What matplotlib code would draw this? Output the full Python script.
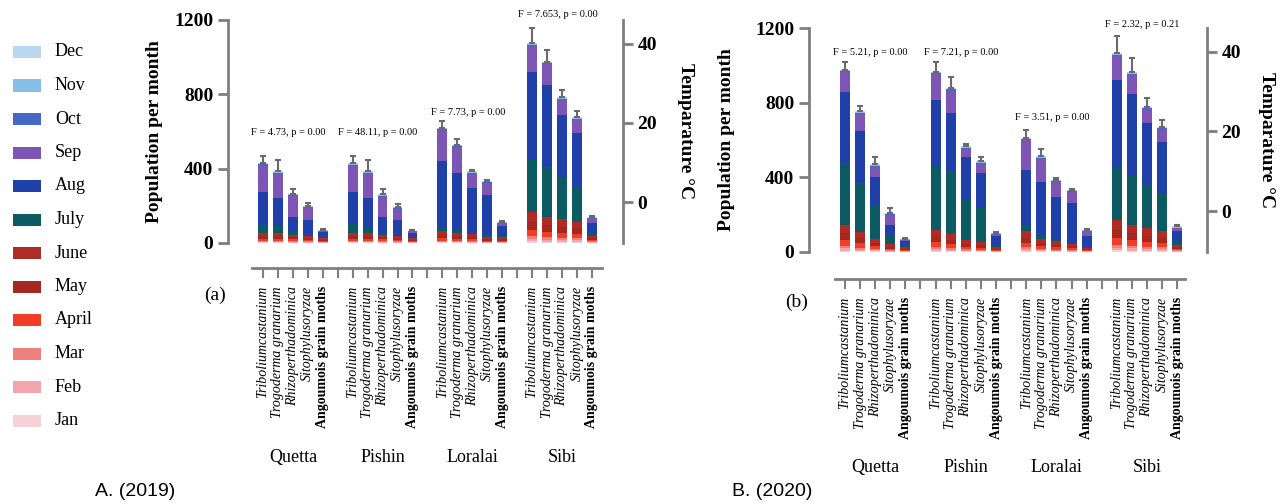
import matplotlib
matplotlib.use('Agg')
import matplotlib.pyplot as plt
import matplotlib.patches as patches
import numpy as np

plt.rcParams['font.family'] = ['Liberation Serif', 'DejaVu Serif']

months = ['Jan', 'Feb', 'Mar', 'April', 'May', 'June', 'July', 'Aug', 'Sep', 'Oct', 'Nov', 'Dec']
month_colors = ['#f5d2d8', '#f3a4ac', '#ef8080', '#ef3d26', '#a4281f', '#b02b25',
                '#0c5a62', '#1f3fa9', '#7d55b5', '#4369c4', '#88bee8', '#b9d8f0']
species = ['Triboliumcastanium', 'Trogoderma granarium', 'Rhizoperthadominica',
           'Sitophylusoryzae', 'Angoumois grain moths']
districts = ['Quetta', 'Pishin', 'Loralai', 'Sibi']

# monthly counts, order: Quetta x5 species, Pishin x5, Loralai x5, Sibi x5
jan_2019 = [3, 3, 2, 2, 1, 3, 3, 2, 2, 1, 3, 3, 2, 2, 1, 8, 7, 6, 6, 2]
feb_2019 = [4, 4, 3, 2, 2, 4, 4, 3, 2, 2, 4, 4, 3, 2, 2, 12, 10, 9, 8, 3]
mar_2019 = [6, 6, 5, 4, 3, 6, 5, 5, 4, 3, 6, 6, 5, 3, 3, 17, 14, 13, 12, 4]
apr_2019 = [11, 11, 9, 7, 5, 11, 10, 9, 7, 5, 13, 11, 10, 6, 6, 34, 28, 26, 23, 8]
may_2019 = [13, 13, 11, 9, 6, 14, 13, 11, 9, 6, 16, 14, 12, 8, 8, 42, 36, 32, 29, 10]
jun_2019 = [17, 17, 15, 11, 8, 17, 17, 14, 11, 8, 21, 18, 16, 11, 10, 56, 47, 42, 37, 13]
jul_2019 = [45, 36, 12, 10, 5, 45, 36, 11, 10, 5, 23, 16, 6, 4, 5, 278, 269, 229, 188, 12]
aug_2019 = [174, 152, 83, 80, 28, 175, 155, 83, 80, 26, 354, 305, 242, 224, 56, 475, 439, 332, 287, 54]
sep_2019 = [144, 131, 113, 62, 4, 140, 130, 112, 60, 4, 166, 140, 78, 61, 15, 139, 112, 82, 73, 22]
oct_2019 = [6, 6, 5, 4, 3, 6, 6, 5, 4, 3, 6, 5, 5, 5, 4, 6, 6, 5, 5, 4]
nov_2019 = [4, 4, 4, 3, 2, 4, 4, 4, 3, 2, 4, 4, 4, 3, 2, 5, 5, 5, 5, 3]
dec_2019 = [3, 3, 3, 3, 1, 3, 3, 3, 3, 1, 3, 3, 3, 3, 2, 3, 3, 3, 3, 3]
err_2019 = [36, 62, 25, 18, 7, 38, 62, 28, 17, 6, 36, 31, 9, 9, 6, 80, 63, 39, 36, 7]

jan_2020 = [8, 5, 4, 2, 1, 6, 5, 3, 3, 1, 6, 4, 3, 2, 1, 9, 8, 6, 6, 2]
feb_2020 = [11, 8, 5, 3, 2, 9, 7, 5, 4, 2, 8, 5, 4, 3, 2, 12, 11, 9, 8, 3]
mar_2020 = [15, 11, 7, 4, 3, 12, 10, 7, 5, 3, 11, 7, 6, 5, 3, 17, 15, 13, 11, 4]
apr_2020 = [30, 22, 14, 9, 5, 24, 20, 13, 10, 5, 22, 14, 12, 9, 5, 35, 30, 26, 22, 8]
may_2020 = [36, 27, 18, 10, 6, 30, 24, 16, 13, 6, 27, 18, 15, 11, 6, 43, 36, 32, 27, 10]
jun_2020 = [46, 35, 22, 14, 8, 39, 32, 22, 17, 8, 36, 22, 20, 14, 7, 57, 46, 42, 36, 13]
jul_2020 = [331, 262, 180, 42, 5, 348, 334, 214, 184, 5, 27, 14, 6, 4, 3, 277, 259, 232, 206, 12]
aug_2020 = [378, 276, 150, 59, 28, 348, 313, 229, 187, 58, 304, 289, 229, 214, 60, 473, 443, 331, 271, 58]
sep_2020 = [108, 95, 58, 56, 4, 137, 120, 45, 51, 6, 157, 127, 80, 61, 24, 129, 100, 73, 69, 17]
oct_2020 = [6, 6, 5, 4, 3, 6, 6, 5, 5, 4, 6, 5, 5, 5, 4, 6, 6, 6, 6, 4]
nov_2020 = [5, 4, 4, 3, 2, 5, 4, 4, 3, 2, 4, 4, 4, 3, 2, 5, 5, 4, 4, 3]
dec_2020 = [3, 3, 3, 3, 1, 3, 3, 3, 3, 2, 3, 3, 3, 3, 2, 3, 3, 3, 3, 3]
err_2020 = [43, 30, 39, 27, 7, 49, 59, 14, 24, 6, 44, 40, 8, 6, 4, 89, 77, 48, 40, 8]

f_text_2019 = ['F = 4.73, p = 0.00', 'F = 48.11, p = 0.00', 'F = 7.73, p = 0.00', 'F = 7.653, p = 0.00']
f_y_2019 = [592, 592, 700, 1227]
f_text_2020 = ['F = 5.21, p = 0.00', 'F = 7.21, p = 0.00', 'F = 3.51, p = 0.00', 'F = 2.32, p = 0.21']
f_y_2020 = [1071, 1071, 718, 1221]

counts_2019 = [jan_2019, feb_2019, mar_2019, apr_2019, may_2019, jun_2019,
               jul_2019, aug_2019, sep_2019, oct_2019, nov_2019, dec_2019]
counts_2020 = [jan_2020, feb_2020, mar_2020, apr_2020, may_2020, jun_2020,
               jul_2020, aug_2020, sep_2020, oct_2020, nov_2020, dec_2020]

GRAY = '#7f7f7f'


def draw_panel(ax, counts, err, f_text, f_y, xlim, axis_offset, axis_bounds, ylab_x, tlab_x):
    """Stacked monthly bars with a separate temperature axis on the right."""
    ax2 = ax.twinx()

    # spines first: set_position resets the ticks
    for side in ['top', 'right']:
        ax.spines[side].set_visible(False)
    ax.spines['left'].set_color(GRAY)
    ax.spines['left'].set_linewidth(2)
    ax.spines['bottom'].set_color(GRAY)
    ax.spines['bottom'].set_linewidth(2)
    ax.spines['bottom'].set_position(('outward', axis_offset))
    ax.spines['bottom'].set_bounds(*axis_bounds)

    n_sp = len(species)
    x = np.array([g * (n_sp + 1) + i for g in range(len(districts)) for i in range(n_sp)])
    bottom = np.zeros(len(x))
    for vals, color in zip(counts, month_colors):
        vals = np.array(vals, dtype=float)
        ax.bar(x, vals, width=0.66, bottom=bottom, color=color, linewidth=0)
        bottom += vals
    ax.errorbar(x, bottom, yerr=[np.zeros(len(x)), err], fmt='none', ecolor='#6a6a6a',
                elinewidth=1.5, capsize=2.5, capthick=1.5)

    ax.set_xlim(*xlim)
    ax.set_ylim(0, 1200)
    ax.set_yticks([0, 400, 800, 1200])
    ax.tick_params(axis='y', colors=GRAY, labelcolor='black', length=7, width=2, labelsize=14)
    for lbl in ax.get_yticklabels():
        lbl.set_fontweight('bold')

    ticks = list(range(len(districts) * (n_sp + 1) - 1))
    labels = ['' if t % (n_sp + 1) == n_sp else species[t % (n_sp + 1)] for t in ticks]
    ax.set_xticks(ticks)
    ax.set_xticklabels(labels, fontsize=10)
    ax.tick_params(axis='x', colors=GRAY, labelcolor='black', length=7, width=1.5, pad=6,
                   labelrotation=90)
    for lbl in ax.get_xticklabels():
        if lbl.get_text() == 'Angoumois grain moths':
            lbl.set_fontweight('bold')
        else:
            lbl.set_style('italic')

    ax.set_ylabel('Population per month', fontsize=14, fontweight='bold')
    ax.yaxis.set_label_coords(ylab_x, 0.5)

    for g, name in enumerate(districts):
        center = g * (n_sp + 1) + (n_sp - 1) / 2
        ax.text(center, -0.964, name, transform=ax.get_xaxis_transform(),
                ha='center', va='center', fontsize=13)
        ax.text(center - 0.3, f_y[g], f_text[g], ha='center', va='center',
                fontsize=7.5, clip_on=False)

    ax2.set_ylim(-10.3, 46)
    ax2.set_yticks([0, 20, 40])
    for side in ['top', 'left', 'bottom']:
        ax2.spines[side].set_visible(False)
    ax2.spines['right'].set_color(GRAY)
    ax2.spines['right'].set_linewidth(2)
    ax2.tick_params(axis='y', colors=GRAY, labelcolor='black', length=7, width=2, labelsize=14)
    for lbl in ax2.get_yticklabels():
        lbl.set_fontweight('bold')
    ax2.set_ylabel('Temparature °C', fontsize=14, fontweight='bold', rotation=270)
    ax2.yaxis.set_label_coords(tlab_x, 0.5)


fig = plt.figure(figsize=(12.85, 5.04), dpi=100)
ax_a = fig.add_axes([0.1774, 0.5179, 0.3074, 0.4425])
ax_b = fig.add_axes([0.6296, 0.5000, 0.3097, 0.4444])

draw_panel(ax_a, counts_2019, err_2019, f_text_2019, f_y_2019,
           xlim=(-2.34, 24.08), axis_offset=18, axis_bounds=(-0.74, 22.68),
           ylab_x=-0.165, tlab_x=1.18)
draw_panel(ax_b, counts_2020, err_2020, f_text_2020, f_y_2020,
           xlim=(-2.38, 23.97), axis_offset=19.5, axis_bounds=(-0.66, 22.5),
           ylab_x=-0.186, tlab_x=1.17)

fig.text(215 / 1285, 1 - 295 / 504, '(a)', fontsize=14, ha='center', va='center')
fig.text(797 / 1285, 1 - 302 / 504, '(b)', fontsize=14, ha='center', va='center')
fig.text(135 / 1285, 1 - 492 / 504, 'A. (2019)', fontsize=14, ha='center', va='center',
         family='Liberation Sans')
fig.text(772 / 1285, 1 - 492 / 504, 'B. (2020)', fontsize=14, ha='center', va='center',
         family='Liberation Sans')

# legend, Dec at the top down to Jan
for i, (name, color) in enumerate(zip(months[::-1], month_colors[::-1])):
    y_px = 52 + i * 33.5
    fig.patches.append(patches.Rectangle((13 / 1285, 1 - (y_px + 6) / 504), 28 / 1285, 12 / 504,
                                         transform=fig.transFigure, facecolor=color,
                                         edgecolor='none'))
    fig.text(55 / 1285, 1 - y_px / 504, name, fontsize=13, va='center', ha='left')

fig.savefig('out.png', dpi=100)
